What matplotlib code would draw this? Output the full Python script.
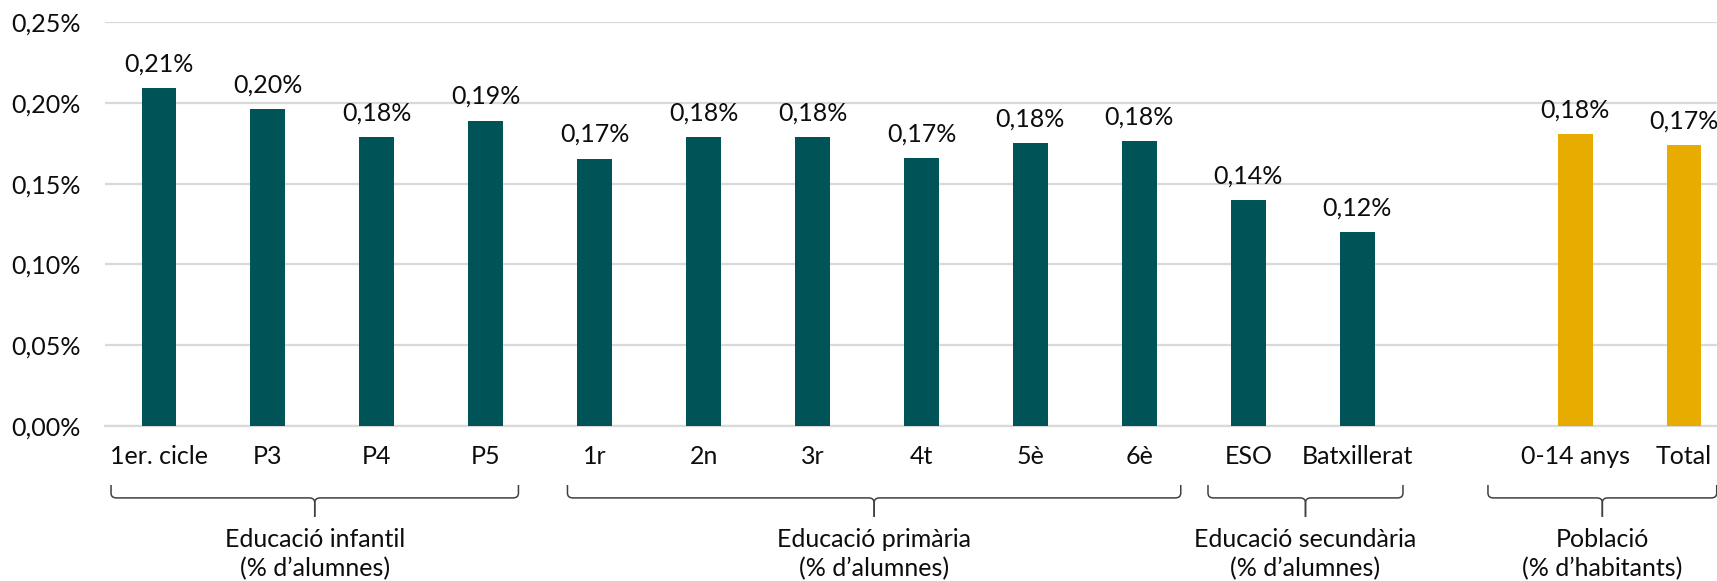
import numpy as np
import matplotlib.pyplot as plt
import matplotlib.transforms as mtransforms
from matplotlib.path import Path
from matplotlib.patches import PathPatch

plt.rcParams['font.family'] = ['Lato', 'DejaVu Sans']

# data (% values)
categories = ['1er. cicle', 'P3', 'P4', 'P5',
              '1r', '2n', '3r', '4t', '5è', '6è',
              'ESO', 'Batxillerat',
              '',
              '0-14 anys', 'Total']
values = [0.209, 0.196, 0.179, 0.189,
          0.1655, 0.179, 0.179, 0.166, 0.1752, 0.1765,
          0.140, 0.120,
          np.nan,
          0.1807, 0.1739]
series_group = ['edu'] * 12 + [''] + ['pob'] * 2

group_labels = ['Educació infantil\n(% d\u2019alumnes)',
                'Educació primària\n(% d\u2019alumnes)',
                'Educació secundària\n(% d\u2019alumnes)',
                'Població\n(% d\u2019habitants)']
# bracket extents in category units
group_spans = [(-0.44, 3.30), (3.75, 9.38), (9.63, 11.42), (12.20, 14.30)]

teal = '#005356'
gold = '#E8AC00'
grid_c = '#D9D9D9'
text_c = '#0d0d0d'
fs = 18

fig = plt.figure(figsize=(17.17, 5.81), dpi=100)
ax = fig.add_axes([104.5 / 1717, 155 / 581, 1634 / 1717, 404 / 581])

x = np.arange(len(categories))
colors = [gold if g == 'pob' else teal for g in series_group]
bars = ax.bar(x, values, width=0.32, color=colors, zorder=3)

for xi, v in zip(x, values):
    if np.isnan(v):
        continue
    ax.annotate(f'{v:.2f}%'.replace('.', ','), (xi, v), xytext=(0, 9),
                textcoords='offset points', ha='center', va='bottom',
                fontsize=fs, color=text_c)

ax.set_xlim(-0.5, 14.5)
ax.set_ylim(0, 0.25)
yt = np.arange(0, 0.2501, 0.05)
ax.set_yticks(yt)
ax.set_yticklabels([f'{t:.2f}%'.replace('.', ',') for t in yt])
ax.set_xticks(x)
ax.set_xticklabels(categories)
ax.tick_params(axis='y', length=0, pad=17, labelsize=fs, labelcolor=text_c)
ax.tick_params(axis='x', length=0, pad=14, labelsize=fs, labelcolor=text_c)
ax.yaxis.grid(True, color=grid_c, linewidth=1.6, zorder=0)
for s in ['top', 'right', 'left']:
    ax.spines[s].set_visible(False)
ax.spines['bottom'].set_color(grid_c)
ax.spines['bottom'].set_linewidth(1.6)

# group brackets
trans = mtransforms.blended_transform_factory(ax.transData, ax.transAxes)
y_top, y_h, y_bot = -0.146, -0.178, -0.225
rx, ry = 0.05, 0.012
for (x0, x1), lab in zip(group_spans, group_labels):
    xm = (x0 + x1) / 2
    for xe, sgn in ((x0, 1), (x1, -1)):
        verts = [(xe, y_top), (xe, y_h + ry), (xe, y_h), (xe + sgn * rx, y_h),
                 (xm - sgn * rx, y_h), (xm, y_h), (xm, y_h - ry), (xm, y_bot)]
        codes = [Path.MOVETO, Path.LINETO, Path.CURVE3, Path.CURVE3,
                 Path.LINETO, Path.CURVE3, Path.CURVE3, Path.LINETO]
        ax.add_patch(PathPatch(Path(verts, codes), transform=trans, fill=False,
                               edgecolor='#404040', linewidth=1.1, clip_on=False))
    ax.text(xm, -0.317, lab, transform=trans, ha='center', va='center',
            fontsize=fs, color=text_c, linespacing=1.35)

fig.savefig('out.png', dpi=100)
